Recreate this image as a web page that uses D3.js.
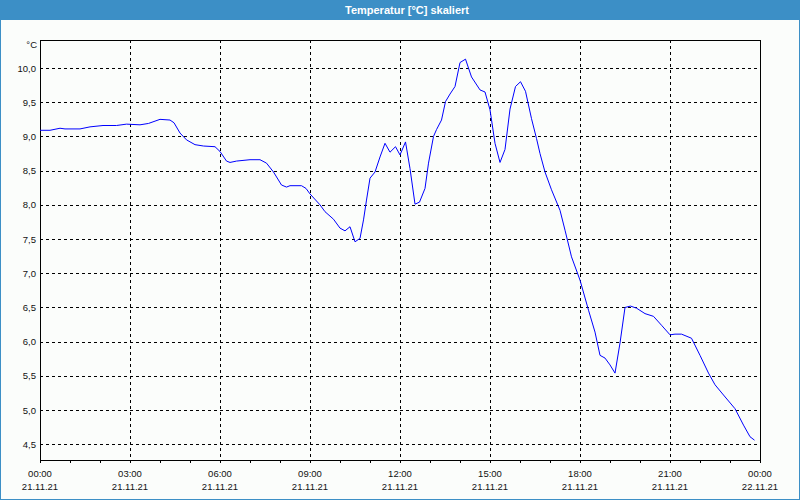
<!DOCTYPE html>
<html><head><meta charset="utf-8">
<script src="https://cdn.jsdelivr.net/npm/d3@7"></script>
<style>
html,body{margin:0;padding:0;background:#fff;}
svg{display:block;}
text{font-family:"Liberation Sans",Arial,sans-serif;}
</style></head>
<body>
<svg id="chart" width="800" height="500"></svg>
<script>
// minutes since 00:00 on 21.11.21
const minutes = [0,20,40,50,80,100,126,153,173,200,217,240,260,268,280,293,310,327,350,360,373,380,393,420,440,453,467,483,493,500,523,532,540,560,570,587,600,610,620,630,640,647,653,660,670,680,690,700,711,720,731,740,750,759,770,777,787,793,803,811,820,830,840,851,863,880,890,900,910,920,930,940,951,961,971,983,993,1000,1010,1023,1040,1050,1063,1080,1097,1110,1120,1130,1140,1150,1160,1170,1181,1193,1210,1227,1243,1260,1270,1283,1303,1320,1337,1350,1367,1390,1407,1420,1429];
const temps = [9.09,9.09,9.12,9.11,9.11,9.14,9.16,9.16,9.18,9.17,9.19,9.25,9.24,9.20,9.05,8.95,8.88,8.86,8.85,8.78,8.64,8.62,8.64,8.66,8.66,8.61,8.48,8.29,8.26,8.28,8.28,8.24,8.16,8.00,7.90,7.79,7.66,7.62,7.68,7.46,7.51,7.78,8.07,8.39,8.48,8.70,8.90,8.77,8.85,8.73,8.92,8.53,8.01,8.04,8.24,8.61,9.00,9.10,9.24,9.51,9.62,9.73,10.08,10.13,9.87,9.68,9.65,9.39,8.90,8.62,8.81,9.40,9.73,9.80,9.66,9.26,8.97,8.75,8.48,8.22,7.92,7.63,7.24,6.90,6.46,6.14,5.80,5.76,5.66,5.54,5.98,6.50,6.52,6.49,6.41,6.37,6.24,6.10,6.11,6.11,6.05,5.80,5.54,5.37,5.22,5.02,4.78,4.61,4.56];
const yTicks = [4.5,5.0,5.5,6.0,6.5,7.0,7.5,8.0,8.5,9.0,9.5,10.0];
const xTickMinutes = [0,180,360,540,720,900,1080,1260,1440];
const xTimeLabels = ["00:00","03:00","06:00","09:00","12:00","15:00","18:00","21:00","00:00"];
const xDateLabels = ["21.11.21","21.11.21","21.11.21","21.11.21","21.11.21","21.11.21","21.11.21","21.11.21","22.11.21"];
const minorTickMinutes = d3.range(0, 1441, 60);
const title = "Temperatur [°C] skaliert";
const unit = "°C";

const svg = d3.select("#chart");
const W = 800, H = 500;
const L = 40, R = 760, T = 40, B = 460;

svg.append("rect").attr("x",0).attr("y",0).attr("width",W).attr("height",H).attr("fill","#fbfdfb");
svg.append("rect").attr("x",0.5).attr("y",0.5).attr("width",W-1).attr("height",H-1)
  .attr("fill","none").attr("stroke","#3c8fc6").attr("stroke-width",1);
svg.append("rect").attr("x",0).attr("y",0).attr("width",W).attr("height",20).attr("fill","#3c8fc6");
svg.append("text").attr("x",407).attr("y",14).attr("text-anchor","middle")
  .attr("fill","#fff").attr("font-weight","bold").attr("font-size","11px").text(title);

const x = d3.scaleLinear().domain([0,1440]).range([L,R]);
const y = d3.scaleLinear().domain([4.27,10.41]).range([B,T]);
const locale = d3.formatLocale({decimal:",",thousands:".",grouping:[3],currency:["","€"]});
const fmt = locale.format(".1f");

// horizontal grid
svg.append("g").selectAll("line").data(yTicks).join("line")
  .attr("x1",L).attr("x2",R)
  .attr("y1",d=>Math.round(y(d))+0.5).attr("y2",d=>Math.round(y(d))+0.5)
  .attr("stroke","#000").attr("stroke-dasharray","3,3").attr("shape-rendering","crispEdges");
// vertical grid
svg.append("g").selectAll("line").data(xTickMinutes.slice(1,-1)).join("line")
  .attr("x1",d=>Math.round(x(d))+0.5).attr("x2",d=>Math.round(x(d))+0.5)
  .attr("y1",T).attr("y2",B)
  .attr("stroke","#000").attr("stroke-dasharray","3,3").attr("shape-rendering","crispEdges");

// x axis with minor ticks
const xAxis = d3.axisBottom(x).tickValues(minorTickMinutes).tickSize(3).tickSizeOuter(0).tickFormat("");
const gx = svg.append("g").attr("transform",`translate(0,${B})`).call(xAxis);
gx.select(".domain").remove();
gx.selectAll("line").attr("stroke","#000").attr("shape-rendering","crispEdges");

// y axis labels
const yAxis = d3.axisLeft(y).tickValues(yTicks).tickSize(0).tickPadding(4).tickFormat(fmt);
const gy = svg.append("g").attr("transform",`translate(${L},0)`).call(yAxis);
gy.select(".domain").remove();
gy.selectAll("text").attr("font-size","9.5px").attr("fill","#111").attr("font-family","Liberation Sans, Arial, sans-serif");

svg.append("text").attr("x",37).attr("y",48).attr("text-anchor","end")
  .attr("font-size","9.5px").attr("fill","#111").text(unit);

// x labels
const xl = svg.append("g");
xl.selectAll("text.t").data(xTickMinutes).join("text").attr("class","t")
  .attr("x",(d)=>x(d)).attr("y",477).attr("text-anchor","middle")
  .attr("font-size","9.5px").attr("fill","#111").text((d,i)=>xTimeLabels[i]);
xl.selectAll("text.d").data(xTickMinutes).join("text").attr("class","d")
  .attr("x",(d)=>x(d)).attr("y",490).attr("text-anchor","middle")
  .attr("font-size","9.5px").attr("fill","#111").text((d,i)=>xDateLabels[i]);

// plot frame
svg.append("rect").attr("x",L+0.5).attr("y",T+0.5).attr("width",R-L-1+1).attr("height",B-T)
  .attr("fill","none").attr("stroke","#000").attr("stroke-width",1).attr("shape-rendering","crispEdges");

// line
const data = minutes.map((m,i)=>({m, v: temps[i]}));
svg.append("path").datum(data)
  .attr("d", d3.line().x(d=>x(d.m)).y(d=>y(d.v)))
  .attr("fill","none").attr("stroke","#0000ff").attr("stroke-width",1);
</script>
</body></html>
